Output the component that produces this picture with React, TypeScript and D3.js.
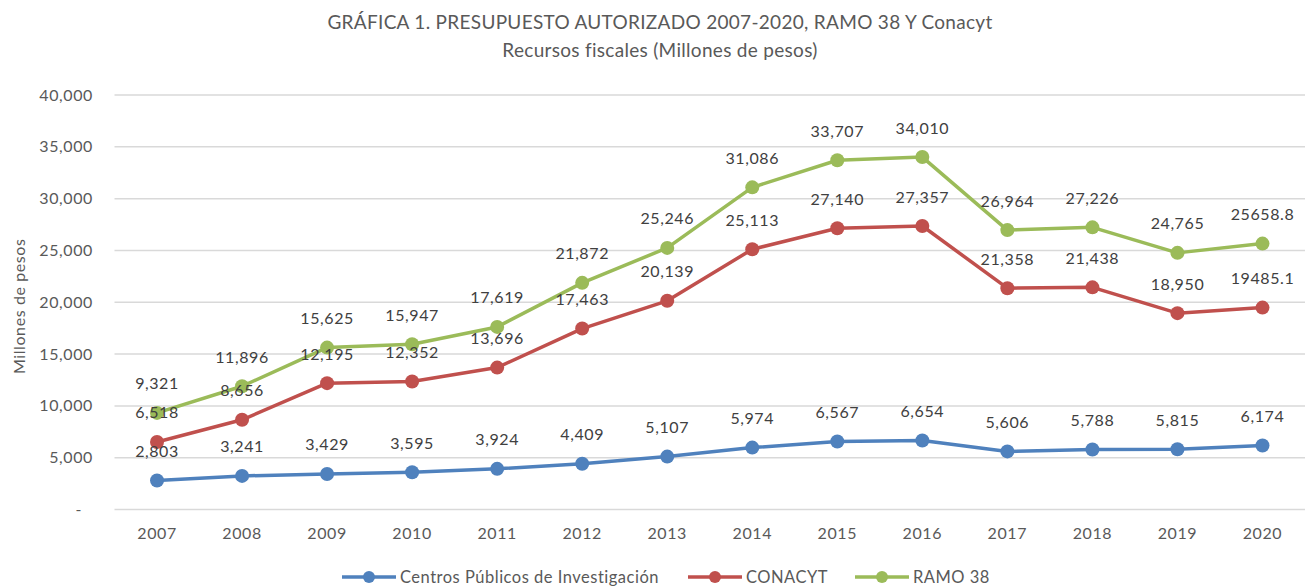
import React from 'react';
import * as d3 from 'd3';

// Data
const years = ['2007', '2008', '2009', '2010', '2011', '2012', '2013', '2014', '2015', '2016', '2017', '2018', '2019', '2020'];
const centros = [2803, 3241, 3429, 3595, 3924, 4409, 5107, 5974, 6567, 6654, 5606, 5788, 5815, 6174];
const conacyt = [6518, 8656, 12195, 12352, 13696, 17463, 20139, 25113, 27140, 27357, 21358, 21438, 18950, 19485.1];
const ramo38 = [9321, 11896, 15625, 15947, 17619, 21872, 25246, 31086, 33707, 34010, 26964, 27226, 24765, 25658.8];
const yTicks = [0, 5000, 10000, 15000, 20000, 25000, 30000, 35000, 40000];

const series = [
  { name: 'Centros Públicos de Investigación', values: centros, color: '#4f81bd' },
  { name: 'CONACYT', values: conacyt, color: '#c0504d' },
  { name: 'RAMO 38', values: ramo38, color: '#9bbb59' },
];

const width = 1305;
const height = 588;
const margin = { top: 95, right: 0, bottom: 79, left: 114.5 };
const font = 'Lato, "Open Sans", sans-serif';
const textColor = '#595959';
const ls = 0.6; // letter spacing to get closer to the wide rendering of the original

const fmtLabel = (v: number) => (Number.isInteger(v) ? d3.format(',')(v) : String(v));
const fmtTick = (v: number) => (v === 0 ? '-' : d3.format(',')(v));

const App = () => {
  const x = d3.scaleBand<string>().domain(years).range([margin.left, width - margin.right]);
  const y = d3.scaleLinear().domain([0, 40000]).range([height - margin.bottom + 0.5, margin.top]);
  const cx = (yr: string) => (x(yr) as number) + x.bandwidth() / 2;
  const line = d3
    .line<number>()
    .x((_, i) => cx(years[i]))
    .y((d) => y(d));

  const legendX = [342, 688, 855];
  const legendY = 577;

  return (
    <svg width={width} height={height} style={{ display: 'block', position: 'absolute', left: 0, top: 0, background: '#fff' }}>
      {/* title */}
      <text x={660} y={29} textAnchor="middle" fontFamily={font} fontSize={19} letterSpacing={0.3} fill={textColor}>
        GRÁFICA 1. PRESUPUESTO AUTORIZADO 2007-2020, RAMO 38 Y Conacyt
      </text>
      <text x={660} y={57} textAnchor="middle" fontFamily={font} fontSize={19} letterSpacing={0.3} fill={textColor}>
        Recursos fiscales (Millones de pesos)
      </text>

      {/* grid + y ticks */}
      {yTicks.map((t) => (
        <g key={t}>
          <line x1={margin.left} x2={width} y1={y(t)} y2={y(t)} stroke="#d9d9d9" strokeWidth={1.5} />
          <text
            x={t === 0 ? 82 : 93}
            y={y(t)}
            dy="0.35em"
            textAnchor="end"
            fontFamily={font}
            fontSize={16}
            letterSpacing={ls}
            fill={textColor}
          >
            {fmtTick(t)}
          </text>
        </g>
      ))}
      <text
        transform={`translate(25,${y(20000) + 4}) rotate(-90)`}
        textAnchor="middle"
        fontFamily={font}
        fontSize={16}
        letterSpacing={ls}
        fill={textColor}
      >
        Millones de pesos
      </text>

      {/* x labels */}
      {years.map((yr) => (
        <text key={yr} x={cx(yr)} y={539} textAnchor="middle" fontFamily={font} fontSize={16} letterSpacing={ls} fill={textColor}>
          {yr}
        </text>
      ))}

      {/* lines and markers */}
      {series.map((s) => (
        <g key={s.name}>
          <path d={line(s.values) || ''} fill="none" stroke={s.color} strokeWidth={3.5} strokeLinejoin="round" />
          {s.values.map((v, i) => (
            <circle key={i} cx={cx(years[i])} cy={y(v)} r={7} fill={s.color} />
          ))}
        </g>
      ))}

      {/* data labels */}
      {series.map((s) => (
        <g key={s.name + '-labels'}>
          {s.values.map((v, i) => (
            <text
              key={i}
              x={cx(years[i])}
              y={y(v) - 23.5}
              textAnchor="middle"
              fontFamily={font}
              fontSize={16}
              letterSpacing={ls}
              fill="#404040"
            >
              {fmtLabel(v)}
            </text>
          ))}
        </g>
      ))}

      {/* legend */}
      {series.map((s, i) => {
        const lx = legendX[i];
        return (
          <g key={s.name + '-legend'}>
            <line x1={lx} x2={lx + 54} y1={legendY} y2={legendY} stroke={s.color} strokeWidth={3.5} />
            <circle cx={lx + 27} cy={legendY} r={6} fill={s.color} />
            <text x={lx + 58} y={legendY} dy="0.35em" fontFamily={font} fontSize={16.5} letterSpacing={0.5} fill={textColor}>
              {s.name}
            </text>
          </g>
        );
      })}
    </svg>
  );
};

export default App;
